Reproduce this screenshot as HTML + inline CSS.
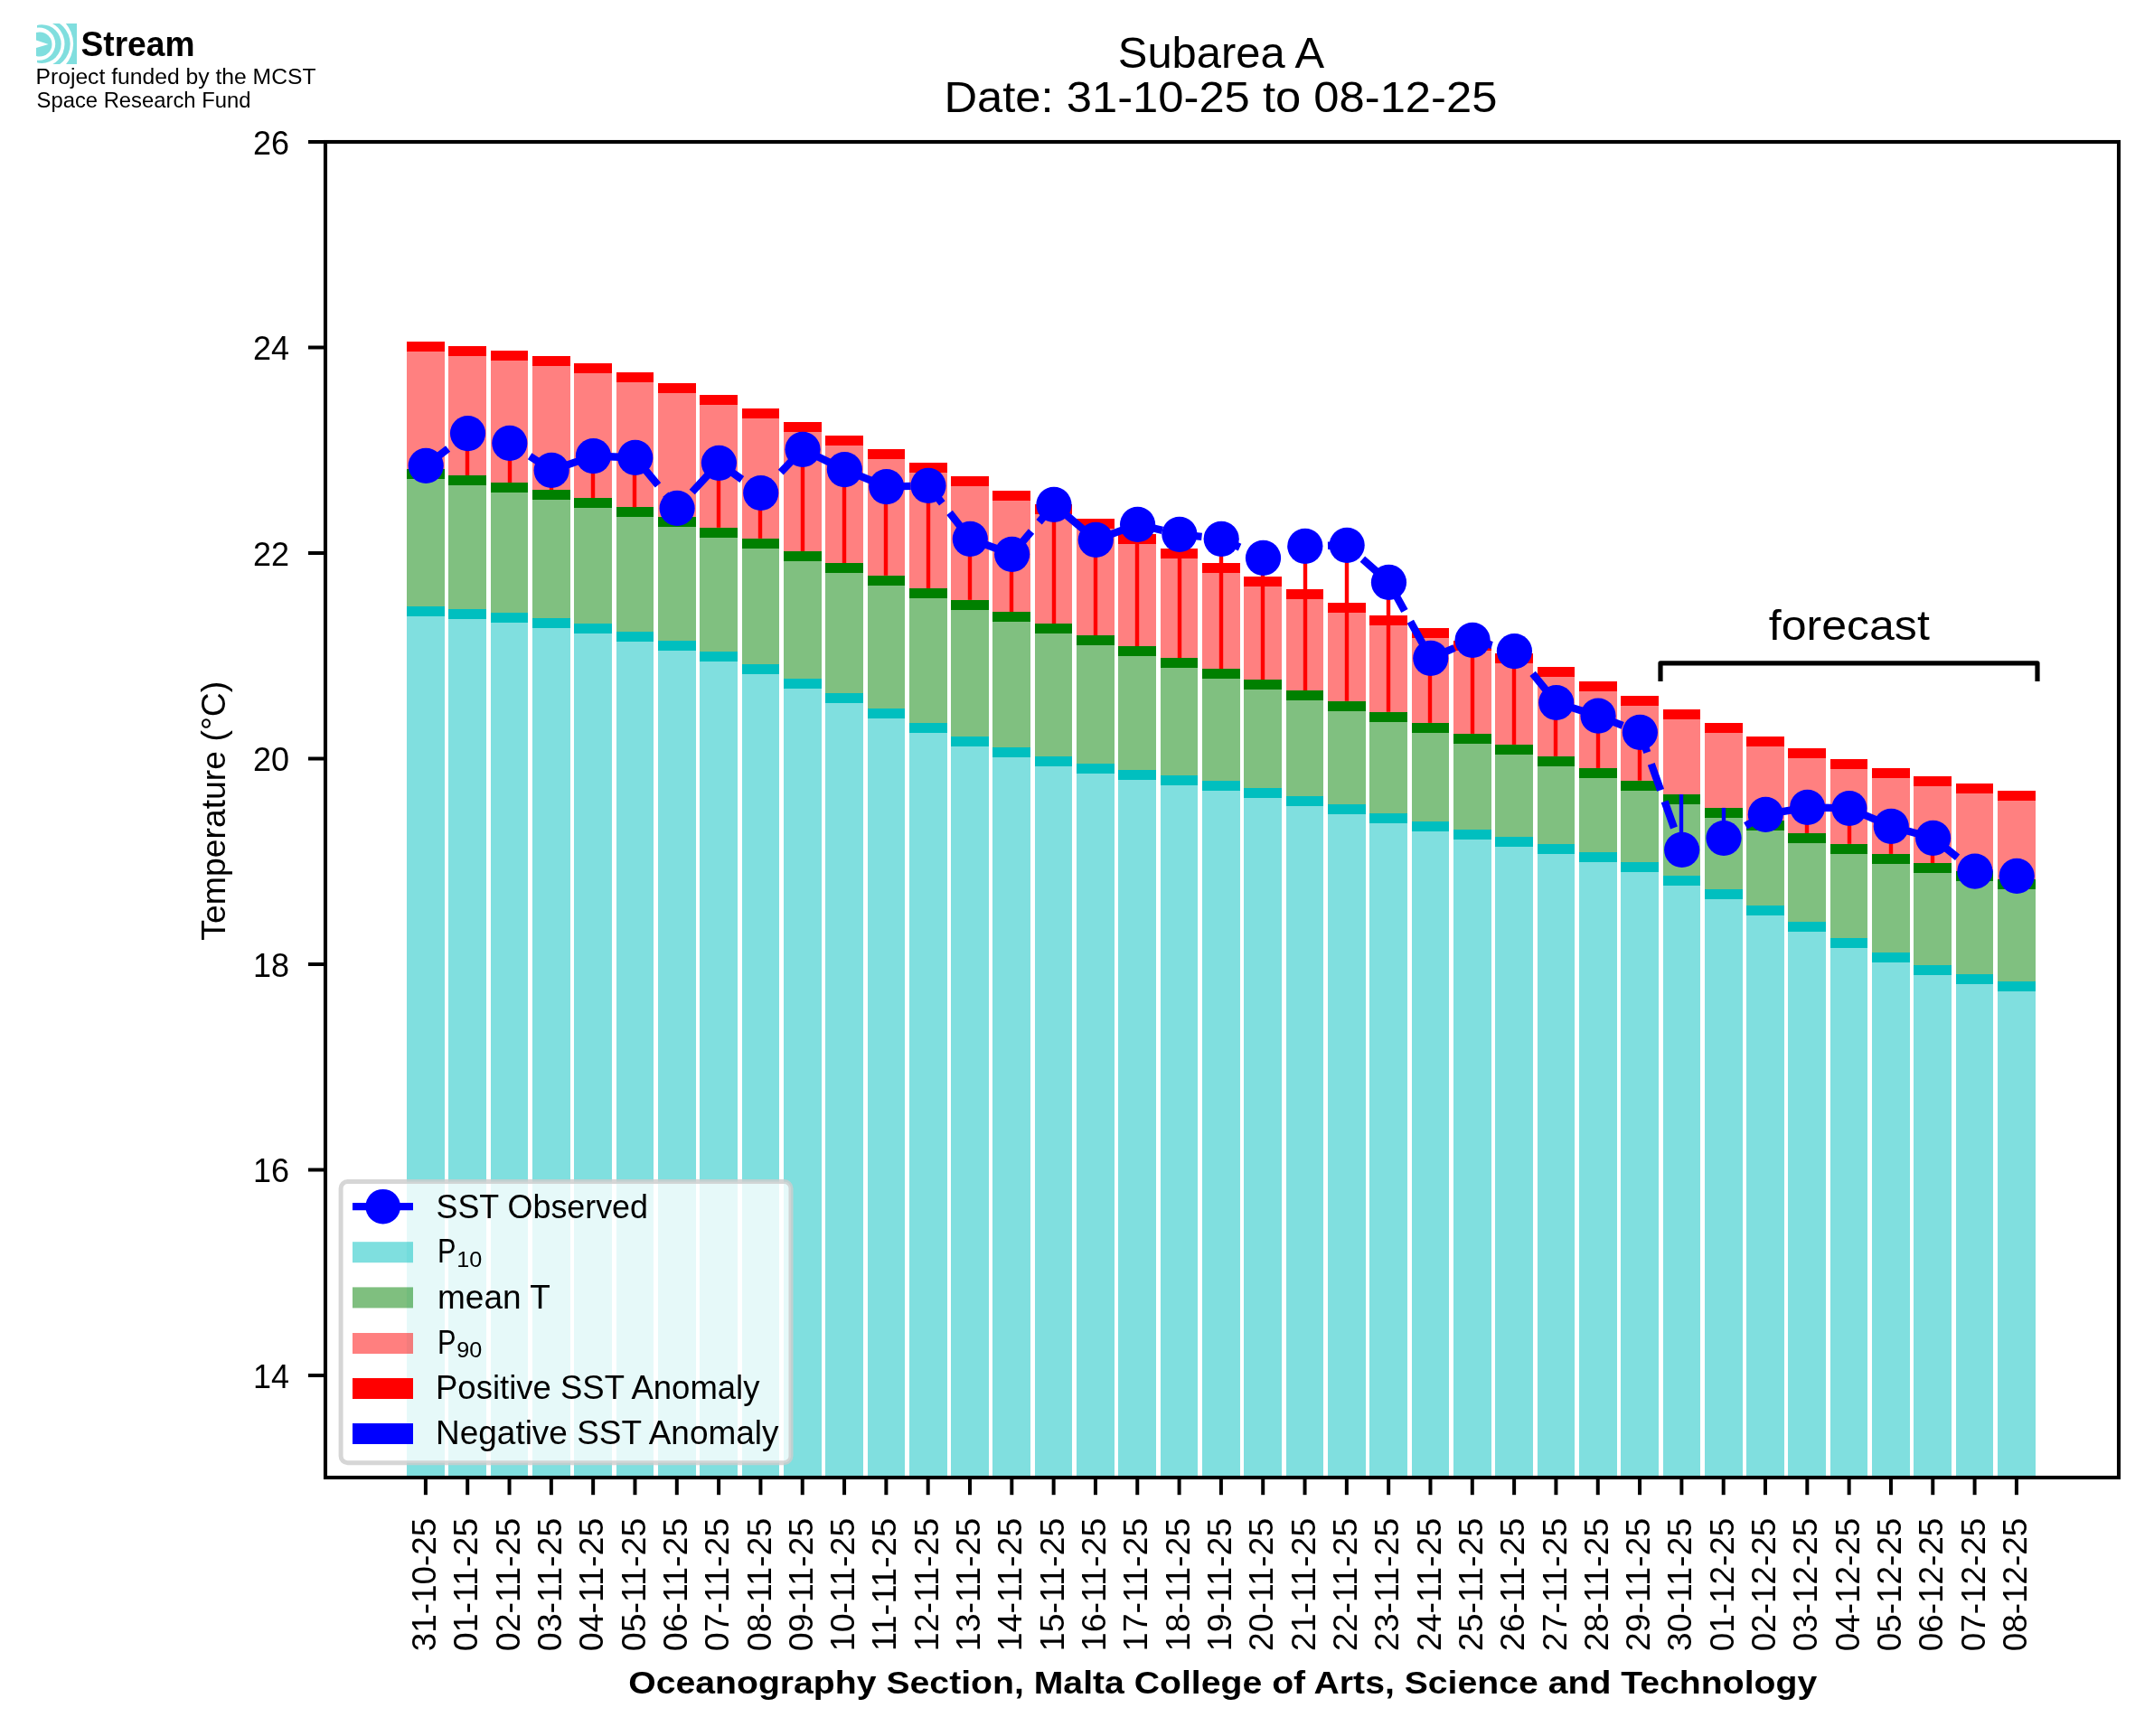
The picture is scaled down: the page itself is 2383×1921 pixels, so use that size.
<!DOCTYPE html>
<html><head><meta charset="utf-8"><title>Subarea A SST</title>
<style>html,body{margin:0;padding:0;background:#fff;width:2383px;height:1921px;overflow:hidden}svg{display:block;will-change:transform}text{font-family:"Liberation Sans",sans-serif}</style></head><body>
<svg width="2383" height="1921" viewBox="0 0 2383 1921">
<rect x="0" y="0" width="2383" height="1921" fill="#ffffff"/>
<defs><clipPath id="ax"><rect x="360" y="157" width="1984" height="1478"/></clipPath>
<clipPath id="logo"><rect x="40" y="26" width="45" height="45"/></clipPath></defs>
<g clip-path="url(#ax)" shape-rendering="crispEdges">
<rect x="450" y="671" width="42" height="966" fill="#80dfdf"/>
<rect x="450" y="519" width="42" height="152" fill="#80c080"/>
<rect x="450" y="378" width="42" height="141" fill="#ff8080"/>
<rect x="450" y="671" width="42" height="11.4" fill="#00bfbf"/>
<rect x="450" y="519" width="42" height="11.4" fill="#008000"/>
<rect x="450" y="378" width="42" height="11.4" fill="#ff0000"/>
<rect x="496" y="674" width="42" height="963" fill="#80dfdf"/>
<rect x="496" y="526" width="42" height="148" fill="#80c080"/>
<rect x="496" y="383" width="42" height="143" fill="#ff8080"/>
<rect x="496" y="674" width="42" height="11.4" fill="#00bfbf"/>
<rect x="496" y="526" width="42" height="11.4" fill="#008000"/>
<rect x="496" y="383" width="42" height="11.4" fill="#ff0000"/>
<rect x="543" y="678" width="41" height="959" fill="#80dfdf"/>
<rect x="543" y="534" width="41" height="144" fill="#80c080"/>
<rect x="543" y="388" width="41" height="146" fill="#ff8080"/>
<rect x="543" y="678" width="41" height="11.4" fill="#00bfbf"/>
<rect x="543" y="534" width="41" height="11.4" fill="#008000"/>
<rect x="543" y="388" width="41" height="11.4" fill="#ff0000"/>
<rect x="589" y="684" width="42" height="953" fill="#80dfdf"/>
<rect x="589" y="542" width="42" height="142" fill="#80c080"/>
<rect x="589" y="394" width="42" height="148" fill="#ff8080"/>
<rect x="589" y="684" width="42" height="11.4" fill="#00bfbf"/>
<rect x="589" y="542" width="42" height="11.4" fill="#008000"/>
<rect x="589" y="394" width="42" height="11.4" fill="#ff0000"/>
<rect x="635" y="690" width="42" height="947" fill="#80dfdf"/>
<rect x="635" y="551" width="42" height="139" fill="#80c080"/>
<rect x="635" y="402" width="42" height="149" fill="#ff8080"/>
<rect x="635" y="690" width="42" height="11.4" fill="#00bfbf"/>
<rect x="635" y="551" width="42" height="11.4" fill="#008000"/>
<rect x="635" y="402" width="42" height="11.4" fill="#ff0000"/>
<rect x="682" y="699" width="41" height="938" fill="#80dfdf"/>
<rect x="682" y="561" width="41" height="138" fill="#80c080"/>
<rect x="682" y="412" width="41" height="149" fill="#ff8080"/>
<rect x="682" y="699" width="41" height="11.4" fill="#00bfbf"/>
<rect x="682" y="561" width="41" height="11.4" fill="#008000"/>
<rect x="682" y="412" width="41" height="11.4" fill="#ff0000"/>
<rect x="728" y="709" width="42" height="928" fill="#80dfdf"/>
<rect x="728" y="572" width="42" height="137" fill="#80c080"/>
<rect x="728" y="424" width="42" height="148" fill="#ff8080"/>
<rect x="728" y="709" width="42" height="11.4" fill="#00bfbf"/>
<rect x="728" y="572" width="42" height="11.4" fill="#008000"/>
<rect x="728" y="424" width="42" height="11.4" fill="#ff0000"/>
<rect x="774" y="721" width="42" height="916" fill="#80dfdf"/>
<rect x="774" y="584" width="42" height="137" fill="#80c080"/>
<rect x="774" y="437" width="42" height="147" fill="#ff8080"/>
<rect x="774" y="721" width="42" height="11.4" fill="#00bfbf"/>
<rect x="774" y="584" width="42" height="11.4" fill="#008000"/>
<rect x="774" y="437" width="42" height="11.4" fill="#ff0000"/>
<rect x="821" y="735" width="41" height="902" fill="#80dfdf"/>
<rect x="821" y="596" width="41" height="139" fill="#80c080"/>
<rect x="821" y="452" width="41" height="144" fill="#ff8080"/>
<rect x="821" y="735" width="41" height="11.4" fill="#00bfbf"/>
<rect x="821" y="596" width="41" height="11.4" fill="#008000"/>
<rect x="821" y="452" width="41" height="11.4" fill="#ff0000"/>
<rect x="867" y="751" width="42" height="886" fill="#80dfdf"/>
<rect x="867" y="610" width="42" height="141" fill="#80c080"/>
<rect x="867" y="467" width="42" height="143" fill="#ff8080"/>
<rect x="867" y="751" width="42" height="11.4" fill="#00bfbf"/>
<rect x="867" y="610" width="42" height="11.4" fill="#008000"/>
<rect x="867" y="467" width="42" height="11.4" fill="#ff0000"/>
<rect x="913" y="767" width="42" height="870" fill="#80dfdf"/>
<rect x="913" y="623" width="42" height="144" fill="#80c080"/>
<rect x="913" y="482" width="42" height="141" fill="#ff8080"/>
<rect x="913" y="767" width="42" height="11.4" fill="#00bfbf"/>
<rect x="913" y="623" width="42" height="11.4" fill="#008000"/>
<rect x="913" y="482" width="42" height="11.4" fill="#ff0000"/>
<rect x="960" y="784" width="41" height="853" fill="#80dfdf"/>
<rect x="960" y="637" width="41" height="147" fill="#80c080"/>
<rect x="960" y="497" width="41" height="140" fill="#ff8080"/>
<rect x="960" y="784" width="41" height="11.4" fill="#00bfbf"/>
<rect x="960" y="637" width="41" height="11.4" fill="#008000"/>
<rect x="960" y="497" width="41" height="11.4" fill="#ff0000"/>
<rect x="1006" y="800" width="42" height="837" fill="#80dfdf"/>
<rect x="1006" y="651" width="42" height="149" fill="#80c080"/>
<rect x="1006" y="512" width="42" height="139" fill="#ff8080"/>
<rect x="1006" y="800" width="42" height="11.4" fill="#00bfbf"/>
<rect x="1006" y="651" width="42" height="11.4" fill="#008000"/>
<rect x="1006" y="512" width="42" height="11.4" fill="#ff0000"/>
<rect x="1052" y="815" width="42" height="822" fill="#80dfdf"/>
<rect x="1052" y="664" width="42" height="151" fill="#80c080"/>
<rect x="1052" y="527" width="42" height="137" fill="#ff8080"/>
<rect x="1052" y="815" width="42" height="11.4" fill="#00bfbf"/>
<rect x="1052" y="664" width="42" height="11.4" fill="#008000"/>
<rect x="1052" y="527" width="42" height="11.4" fill="#ff0000"/>
<rect x="1098" y="827" width="42" height="810" fill="#80dfdf"/>
<rect x="1098" y="677" width="42" height="150" fill="#80c080"/>
<rect x="1098" y="543" width="42" height="134" fill="#ff8080"/>
<rect x="1098" y="827" width="42" height="11.4" fill="#00bfbf"/>
<rect x="1098" y="677" width="42" height="11.4" fill="#008000"/>
<rect x="1098" y="543" width="42" height="11.4" fill="#ff0000"/>
<rect x="1145" y="837" width="41" height="800" fill="#80dfdf"/>
<rect x="1145" y="690" width="41" height="147" fill="#80c080"/>
<rect x="1145" y="558" width="41" height="132" fill="#ff8080"/>
<rect x="1145" y="837" width="41" height="11.4" fill="#00bfbf"/>
<rect x="1145" y="690" width="41" height="11.4" fill="#008000"/>
<rect x="1145" y="558" width="41" height="11.4" fill="#ff0000"/>
<rect x="1191" y="845" width="42" height="792" fill="#80dfdf"/>
<rect x="1191" y="703" width="42" height="142" fill="#80c080"/>
<rect x="1191" y="574" width="42" height="129" fill="#ff8080"/>
<rect x="1191" y="845" width="42" height="11.4" fill="#00bfbf"/>
<rect x="1191" y="703" width="42" height="11.4" fill="#008000"/>
<rect x="1191" y="574" width="42" height="11.4" fill="#ff0000"/>
<rect x="1237" y="852" width="42" height="785" fill="#80dfdf"/>
<rect x="1237" y="715" width="42" height="137" fill="#80c080"/>
<rect x="1237" y="591" width="42" height="124" fill="#ff8080"/>
<rect x="1237" y="852" width="42" height="11.4" fill="#00bfbf"/>
<rect x="1237" y="715" width="42" height="11.4" fill="#008000"/>
<rect x="1237" y="591" width="42" height="11.4" fill="#ff0000"/>
<rect x="1284" y="858" width="41" height="779" fill="#80dfdf"/>
<rect x="1284" y="728" width="41" height="130" fill="#80c080"/>
<rect x="1284" y="607" width="41" height="121" fill="#ff8080"/>
<rect x="1284" y="858" width="41" height="11.4" fill="#00bfbf"/>
<rect x="1284" y="728" width="41" height="11.4" fill="#008000"/>
<rect x="1284" y="607" width="41" height="11.4" fill="#ff0000"/>
<rect x="1330" y="864" width="42" height="773" fill="#80dfdf"/>
<rect x="1330" y="740" width="42" height="124" fill="#80c080"/>
<rect x="1330" y="623" width="42" height="117" fill="#ff8080"/>
<rect x="1330" y="864" width="42" height="11.4" fill="#00bfbf"/>
<rect x="1330" y="740" width="42" height="11.4" fill="#008000"/>
<rect x="1330" y="623" width="42" height="11.4" fill="#ff0000"/>
<rect x="1376" y="872" width="42" height="765" fill="#80dfdf"/>
<rect x="1376" y="752" width="42" height="120" fill="#80c080"/>
<rect x="1376" y="638" width="42" height="114" fill="#ff8080"/>
<rect x="1376" y="872" width="42" height="11.4" fill="#00bfbf"/>
<rect x="1376" y="752" width="42" height="11.4" fill="#008000"/>
<rect x="1376" y="638" width="42" height="11.4" fill="#ff0000"/>
<rect x="1423" y="881" width="41" height="756" fill="#80dfdf"/>
<rect x="1423" y="764" width="41" height="117" fill="#80c080"/>
<rect x="1423" y="652" width="41" height="112" fill="#ff8080"/>
<rect x="1423" y="881" width="41" height="11.4" fill="#00bfbf"/>
<rect x="1423" y="764" width="41" height="11.4" fill="#008000"/>
<rect x="1423" y="652" width="41" height="11.4" fill="#ff0000"/>
<rect x="1469" y="890" width="42" height="747" fill="#80dfdf"/>
<rect x="1469" y="776" width="42" height="114" fill="#80c080"/>
<rect x="1469" y="667" width="42" height="109" fill="#ff8080"/>
<rect x="1469" y="890" width="42" height="11.4" fill="#00bfbf"/>
<rect x="1469" y="776" width="42" height="11.4" fill="#008000"/>
<rect x="1469" y="667" width="42" height="11.4" fill="#ff0000"/>
<rect x="1515" y="900" width="42" height="737" fill="#80dfdf"/>
<rect x="1515" y="788" width="42" height="112" fill="#80c080"/>
<rect x="1515" y="681" width="42" height="107" fill="#ff8080"/>
<rect x="1515" y="900" width="42" height="11.4" fill="#00bfbf"/>
<rect x="1515" y="788" width="42" height="11.4" fill="#008000"/>
<rect x="1515" y="681" width="42" height="11.4" fill="#ff0000"/>
<rect x="1562" y="909" width="41" height="728" fill="#80dfdf"/>
<rect x="1562" y="800" width="41" height="109" fill="#80c080"/>
<rect x="1562" y="695" width="41" height="105" fill="#ff8080"/>
<rect x="1562" y="909" width="41" height="11.4" fill="#00bfbf"/>
<rect x="1562" y="800" width="41" height="11.4" fill="#008000"/>
<rect x="1562" y="695" width="41" height="11.4" fill="#ff0000"/>
<rect x="1608" y="918" width="42" height="719" fill="#80dfdf"/>
<rect x="1608" y="812" width="42" height="106" fill="#80c080"/>
<rect x="1608" y="709" width="42" height="103" fill="#ff8080"/>
<rect x="1608" y="918" width="42" height="11.4" fill="#00bfbf"/>
<rect x="1608" y="812" width="42" height="11.4" fill="#008000"/>
<rect x="1608" y="709" width="42" height="11.4" fill="#ff0000"/>
<rect x="1654" y="926" width="42" height="711" fill="#80dfdf"/>
<rect x="1654" y="824" width="42" height="102" fill="#80c080"/>
<rect x="1654" y="723" width="42" height="101" fill="#ff8080"/>
<rect x="1654" y="926" width="42" height="11.4" fill="#00bfbf"/>
<rect x="1654" y="824" width="42" height="11.4" fill="#008000"/>
<rect x="1654" y="723" width="42" height="11.4" fill="#ff0000"/>
<rect x="1701" y="934" width="41" height="703" fill="#80dfdf"/>
<rect x="1701" y="837" width="41" height="97" fill="#80c080"/>
<rect x="1701" y="738" width="41" height="99" fill="#ff8080"/>
<rect x="1701" y="934" width="41" height="11.4" fill="#00bfbf"/>
<rect x="1701" y="837" width="41" height="11.4" fill="#008000"/>
<rect x="1701" y="738" width="41" height="11.4" fill="#ff0000"/>
<rect x="1747" y="943" width="42" height="694" fill="#80dfdf"/>
<rect x="1747" y="850" width="42" height="93" fill="#80c080"/>
<rect x="1747" y="754" width="42" height="96" fill="#ff8080"/>
<rect x="1747" y="943" width="42" height="11.4" fill="#00bfbf"/>
<rect x="1747" y="850" width="42" height="11.4" fill="#008000"/>
<rect x="1747" y="754" width="42" height="11.4" fill="#ff0000"/>
<rect x="1793" y="954" width="42" height="683" fill="#80dfdf"/>
<rect x="1793" y="864" width="42" height="90" fill="#80c080"/>
<rect x="1793" y="770" width="42" height="94" fill="#ff8080"/>
<rect x="1793" y="954" width="42" height="11.4" fill="#00bfbf"/>
<rect x="1793" y="864" width="42" height="11.4" fill="#008000"/>
<rect x="1793" y="770" width="42" height="11.4" fill="#ff0000"/>
<rect x="1840" y="969" width="41" height="668" fill="#80dfdf"/>
<rect x="1840" y="879" width="41" height="90" fill="#80c080"/>
<rect x="1840" y="785" width="41" height="94" fill="#ff8080"/>
<rect x="1840" y="969" width="41" height="11.4" fill="#00bfbf"/>
<rect x="1840" y="879" width="41" height="11.4" fill="#008000"/>
<rect x="1840" y="785" width="41" height="11.4" fill="#ff0000"/>
<rect x="1886" y="984" width="42" height="653" fill="#80dfdf"/>
<rect x="1886" y="894" width="42" height="90" fill="#80c080"/>
<rect x="1886" y="800" width="42" height="94" fill="#ff8080"/>
<rect x="1886" y="984" width="42" height="11.4" fill="#00bfbf"/>
<rect x="1886" y="894" width="42" height="11.4" fill="#008000"/>
<rect x="1886" y="800" width="42" height="11.4" fill="#ff0000"/>
<rect x="1932" y="1002" width="42" height="635" fill="#80dfdf"/>
<rect x="1932" y="908" width="42" height="94" fill="#80c080"/>
<rect x="1932" y="815" width="42" height="93" fill="#ff8080"/>
<rect x="1932" y="1002" width="42" height="11.4" fill="#00bfbf"/>
<rect x="1932" y="908" width="42" height="11.4" fill="#008000"/>
<rect x="1932" y="815" width="42" height="11.4" fill="#ff0000"/>
<rect x="1978" y="1020" width="42" height="617" fill="#80dfdf"/>
<rect x="1978" y="922" width="42" height="98" fill="#80c080"/>
<rect x="1978" y="828" width="42" height="94" fill="#ff8080"/>
<rect x="1978" y="1020" width="42" height="11.4" fill="#00bfbf"/>
<rect x="1978" y="922" width="42" height="11.4" fill="#008000"/>
<rect x="1978" y="828" width="42" height="11.4" fill="#ff0000"/>
<rect x="2025" y="1038" width="41" height="599" fill="#80dfdf"/>
<rect x="2025" y="934" width="41" height="104" fill="#80c080"/>
<rect x="2025" y="840" width="41" height="94" fill="#ff8080"/>
<rect x="2025" y="1038" width="41" height="11.4" fill="#00bfbf"/>
<rect x="2025" y="934" width="41" height="11.4" fill="#008000"/>
<rect x="2025" y="840" width="41" height="11.4" fill="#ff0000"/>
<rect x="2071" y="1054" width="42" height="583" fill="#80dfdf"/>
<rect x="2071" y="945" width="42" height="109" fill="#80c080"/>
<rect x="2071" y="850" width="42" height="95" fill="#ff8080"/>
<rect x="2071" y="1054" width="42" height="11.4" fill="#00bfbf"/>
<rect x="2071" y="945" width="42" height="11.4" fill="#008000"/>
<rect x="2071" y="850" width="42" height="11.4" fill="#ff0000"/>
<rect x="2117" y="1068" width="42" height="569" fill="#80dfdf"/>
<rect x="2117" y="955" width="42" height="113" fill="#80c080"/>
<rect x="2117" y="859" width="42" height="96" fill="#ff8080"/>
<rect x="2117" y="1068" width="42" height="11.4" fill="#00bfbf"/>
<rect x="2117" y="955" width="42" height="11.4" fill="#008000"/>
<rect x="2117" y="859" width="42" height="11.4" fill="#ff0000"/>
<rect x="2164" y="1078" width="41" height="559" fill="#80dfdf"/>
<rect x="2164" y="964" width="41" height="114" fill="#80c080"/>
<rect x="2164" y="867" width="41" height="97" fill="#ff8080"/>
<rect x="2164" y="1078" width="41" height="11.4" fill="#00bfbf"/>
<rect x="2164" y="964" width="41" height="11.4" fill="#008000"/>
<rect x="2164" y="867" width="41" height="11.4" fill="#ff0000"/>
<rect x="2210" y="1086" width="42" height="551" fill="#80dfdf"/>
<rect x="2210" y="973" width="42" height="113" fill="#80c080"/>
<rect x="2210" y="875" width="42" height="98" fill="#ff8080"/>
<rect x="2210" y="1086" width="42" height="11.4" fill="#00bfbf"/>
<rect x="2210" y="973" width="42" height="11.4" fill="#008000"/>
<rect x="2210" y="875" width="42" height="11.4" fill="#ff0000"/>
</g>
<g clip-path="url(#ax)">
<line x1="471" y1="519" x2="471" y2="515.3" stroke="#ff0000" stroke-width="4.4"/>
<line x1="517" y1="525.9" x2="517" y2="479.6" stroke="#ff0000" stroke-width="4.4"/>
<line x1="564" y1="534" x2="564" y2="490.4" stroke="#ff0000" stroke-width="4.4"/>
<line x1="610" y1="542" x2="610" y2="520.4" stroke="#ff0000" stroke-width="4.4"/>
<line x1="656" y1="551" x2="656" y2="504.6" stroke="#ff0000" stroke-width="4.4"/>
<line x1="702" y1="561.2" x2="702" y2="506.4" stroke="#ff0000" stroke-width="4.4"/>
<line x1="749" y1="571.9" x2="749" y2="562.4" stroke="#ff0000" stroke-width="4.4"/>
<line x1="795" y1="583.8" x2="795" y2="512.3" stroke="#ff0000" stroke-width="4.4"/>
<line x1="841" y1="595.8" x2="841" y2="545.5" stroke="#ff0000" stroke-width="4.4"/>
<line x1="888" y1="609.9" x2="888" y2="497.3" stroke="#ff0000" stroke-width="4.4"/>
<line x1="934" y1="623" x2="934" y2="519.6" stroke="#ff0000" stroke-width="4.4"/>
<line x1="980" y1="636.8" x2="980" y2="538.6" stroke="#ff0000" stroke-width="4.4"/>
<line x1="1027" y1="650.9" x2="1027" y2="537.4" stroke="#ff0000" stroke-width="4.4"/>
<line x1="1073" y1="663.8" x2="1073" y2="596.4" stroke="#ff0000" stroke-width="4.4"/>
<line x1="1119" y1="677" x2="1119" y2="613.3" stroke="#ff0000" stroke-width="4.4"/>
<line x1="1166" y1="689.9" x2="1166" y2="558.4" stroke="#ff0000" stroke-width="4.4"/>
<line x1="1212" y1="703" x2="1212" y2="597.4" stroke="#ff0000" stroke-width="4.4"/>
<line x1="1258" y1="715" x2="1258" y2="580.4" stroke="#ff0000" stroke-width="4.4"/>
<line x1="1305" y1="727.9" x2="1305" y2="591.3" stroke="#ff0000" stroke-width="4.4"/>
<line x1="1351" y1="739.9" x2="1351" y2="596.3" stroke="#ff0000" stroke-width="4.4"/>
<line x1="1397" y1="751.9" x2="1397" y2="617.4" stroke="#ff0000" stroke-width="4.4"/>
<line x1="1444" y1="763.9" x2="1444" y2="604.3" stroke="#ff0000" stroke-width="4.4"/>
<line x1="1490" y1="775.8" x2="1490" y2="603.3" stroke="#ff0000" stroke-width="4.4"/>
<line x1="1536" y1="787.8" x2="1536" y2="644.4" stroke="#ff0000" stroke-width="4.4"/>
<line x1="1582" y1="799.9" x2="1582" y2="728.4" stroke="#ff0000" stroke-width="4.4"/>
<line x1="1629" y1="811.9" x2="1629" y2="708.3" stroke="#ff0000" stroke-width="4.4"/>
<line x1="1675" y1="823.9" x2="1675" y2="720.6" stroke="#ff0000" stroke-width="4.4"/>
<line x1="1721" y1="836.8" x2="1721" y2="777.5" stroke="#ff0000" stroke-width="4.4"/>
<line x1="1768" y1="849.9" x2="1768" y2="792.2" stroke="#ff0000" stroke-width="4.4"/>
<line x1="1814" y1="863.7" x2="1814" y2="810.4" stroke="#ff0000" stroke-width="4.4"/>
<line x1="1860" y1="879" x2="1860" y2="940.4" stroke="#0000ff" stroke-width="4.4"/>
<line x1="1907" y1="893.9" x2="1907" y2="927.5" stroke="#0000ff" stroke-width="4.4"/>
<line x1="1953" y1="908.2" x2="1953" y2="901.3" stroke="#ff0000" stroke-width="4.4"/>
<line x1="1999" y1="921.9" x2="1999" y2="893.3" stroke="#ff0000" stroke-width="4.4"/>
<line x1="2046" y1="933.8" x2="2046" y2="894.5" stroke="#ff0000" stroke-width="4.4"/>
<line x1="2092" y1="944.9" x2="2092" y2="914.4" stroke="#ff0000" stroke-width="4.4"/>
<line x1="2138" y1="955" x2="2138" y2="927.3" stroke="#ff0000" stroke-width="4.4"/>
<line x1="2185" y1="964" x2="2185" y2="964.2" stroke="#0000ff" stroke-width="4.4"/>
<line x1="2231" y1="972.7" x2="2231" y2="969.3" stroke="#ff0000" stroke-width="4.4"/>
<polyline points="471.2,515.3 517.52,479.6 563.83,490.4 610.15,520.4 656.46,504.6 702.78,506.4 749.1,562.4 795.41,512.3 841.73,545.5 888.04,497.3 934.36,519.6 980.68,538.6 1026.99,537.4 1073.31,596.4 1119.62,613.3 1165.94,558.4 1212.26,597.4 1258.57,580.4 1304.89,591.3 1351.2,596.3 1397.52,617.4 1443.84,604.3 1490.15,603.3 1536.47,644.4 1582.78,728.4 1629.1,708.3 1675.42,720.6 1721.73,777.5 1768.05,792.2 1814.36,810.4 1860.68,940.4 1907,927.5 1953.31,901.3 1999.63,893.3 2045.94,894.5 2092.26,914.4 2138.58,927.3 2184.89,964.2 2231.21,969.3" fill="none" stroke="#0000ff" stroke-width="8.33" stroke-dasharray="30.84 13.36" stroke-linejoin="round" stroke-linecap="butt"/>
<circle cx="471.2" cy="515.3" r="19.6" fill="#0000ff"/>
<circle cx="517.52" cy="479.6" r="19.6" fill="#0000ff"/>
<circle cx="563.83" cy="490.4" r="19.6" fill="#0000ff"/>
<circle cx="610.15" cy="520.4" r="19.6" fill="#0000ff"/>
<circle cx="656.46" cy="504.6" r="19.6" fill="#0000ff"/>
<circle cx="702.78" cy="506.4" r="19.6" fill="#0000ff"/>
<circle cx="749.1" cy="562.4" r="19.6" fill="#0000ff"/>
<circle cx="795.41" cy="512.3" r="19.6" fill="#0000ff"/>
<circle cx="841.73" cy="545.5" r="19.6" fill="#0000ff"/>
<circle cx="888.04" cy="497.3" r="19.6" fill="#0000ff"/>
<circle cx="934.36" cy="519.6" r="19.6" fill="#0000ff"/>
<circle cx="980.68" cy="538.6" r="19.6" fill="#0000ff"/>
<circle cx="1026.99" cy="537.4" r="19.6" fill="#0000ff"/>
<circle cx="1073.31" cy="596.4" r="19.6" fill="#0000ff"/>
<circle cx="1119.62" cy="613.3" r="19.6" fill="#0000ff"/>
<circle cx="1165.94" cy="558.4" r="19.6" fill="#0000ff"/>
<circle cx="1212.26" cy="597.4" r="19.6" fill="#0000ff"/>
<circle cx="1258.57" cy="580.4" r="19.6" fill="#0000ff"/>
<circle cx="1304.89" cy="591.3" r="19.6" fill="#0000ff"/>
<circle cx="1351.2" cy="596.3" r="19.6" fill="#0000ff"/>
<circle cx="1397.52" cy="617.4" r="19.6" fill="#0000ff"/>
<circle cx="1443.84" cy="604.3" r="19.6" fill="#0000ff"/>
<circle cx="1490.15" cy="603.3" r="19.6" fill="#0000ff"/>
<circle cx="1536.47" cy="644.4" r="19.6" fill="#0000ff"/>
<circle cx="1582.78" cy="728.4" r="19.6" fill="#0000ff"/>
<circle cx="1629.1" cy="708.3" r="19.6" fill="#0000ff"/>
<circle cx="1675.42" cy="720.6" r="19.6" fill="#0000ff"/>
<circle cx="1721.73" cy="777.5" r="19.6" fill="#0000ff"/>
<circle cx="1768.05" cy="792.2" r="19.6" fill="#0000ff"/>
<circle cx="1814.36" cy="810.4" r="19.6" fill="#0000ff"/>
<circle cx="1860.68" cy="940.4" r="19.6" fill="#0000ff"/>
<circle cx="1907" cy="927.5" r="19.6" fill="#0000ff"/>
<circle cx="1953.31" cy="901.3" r="19.6" fill="#0000ff"/>
<circle cx="1999.63" cy="893.3" r="19.6" fill="#0000ff"/>
<circle cx="2045.94" cy="894.5" r="19.6" fill="#0000ff"/>
<circle cx="2092.26" cy="914.4" r="19.6" fill="#0000ff"/>
<circle cx="2138.58" cy="927.3" r="19.6" fill="#0000ff"/>
<circle cx="2184.89" cy="964.2" r="19.6" fill="#0000ff"/>
<circle cx="2231.21" cy="969.3" r="19.6" fill="#0000ff"/>
</g>
<g stroke="#000" stroke-width="4.1" fill="none" stroke-linecap="square">
<rect x="360" y="157" width="1984" height="1478"/>
</g>
<g stroke="#000" stroke-width="4">
<line x1="341" y1="157" x2="360" y2="157"/>
<line x1="341" y1="384.5" x2="360" y2="384.5"/>
<line x1="341" y1="612" x2="360" y2="612"/>
<line x1="341" y1="839.5" x2="360" y2="839.5"/>
<line x1="341" y1="1067" x2="360" y2="1067"/>
<line x1="341" y1="1294.5" x2="360" y2="1294.5"/>
<line x1="341" y1="1522" x2="360" y2="1522"/>
<line x1="470.9" y1="1635" x2="470.9" y2="1654.2"/>
<line x1="517.22" y1="1635" x2="517.22" y2="1654.2"/>
<line x1="563.53" y1="1635" x2="563.53" y2="1654.2"/>
<line x1="609.85" y1="1635" x2="609.85" y2="1654.2"/>
<line x1="656.16" y1="1635" x2="656.16" y2="1654.2"/>
<line x1="702.48" y1="1635" x2="702.48" y2="1654.2"/>
<line x1="748.8" y1="1635" x2="748.8" y2="1654.2"/>
<line x1="795.11" y1="1635" x2="795.11" y2="1654.2"/>
<line x1="841.43" y1="1635" x2="841.43" y2="1654.2"/>
<line x1="887.74" y1="1635" x2="887.74" y2="1654.2"/>
<line x1="934.06" y1="1635" x2="934.06" y2="1654.2"/>
<line x1="980.38" y1="1635" x2="980.38" y2="1654.2"/>
<line x1="1026.69" y1="1635" x2="1026.69" y2="1654.2"/>
<line x1="1073.01" y1="1635" x2="1073.01" y2="1654.2"/>
<line x1="1119.32" y1="1635" x2="1119.32" y2="1654.2"/>
<line x1="1165.64" y1="1635" x2="1165.64" y2="1654.2"/>
<line x1="1211.96" y1="1635" x2="1211.96" y2="1654.2"/>
<line x1="1258.27" y1="1635" x2="1258.27" y2="1654.2"/>
<line x1="1304.59" y1="1635" x2="1304.59" y2="1654.2"/>
<line x1="1350.9" y1="1635" x2="1350.9" y2="1654.2"/>
<line x1="1397.22" y1="1635" x2="1397.22" y2="1654.2"/>
<line x1="1443.54" y1="1635" x2="1443.54" y2="1654.2"/>
<line x1="1489.85" y1="1635" x2="1489.85" y2="1654.2"/>
<line x1="1536.17" y1="1635" x2="1536.17" y2="1654.2"/>
<line x1="1582.48" y1="1635" x2="1582.48" y2="1654.2"/>
<line x1="1628.8" y1="1635" x2="1628.8" y2="1654.2"/>
<line x1="1675.12" y1="1635" x2="1675.12" y2="1654.2"/>
<line x1="1721.43" y1="1635" x2="1721.43" y2="1654.2"/>
<line x1="1767.75" y1="1635" x2="1767.75" y2="1654.2"/>
<line x1="1814.06" y1="1635" x2="1814.06" y2="1654.2"/>
<line x1="1860.38" y1="1635" x2="1860.38" y2="1654.2"/>
<line x1="1906.7" y1="1635" x2="1906.7" y2="1654.2"/>
<line x1="1953.01" y1="1635" x2="1953.01" y2="1654.2"/>
<line x1="1999.33" y1="1635" x2="1999.33" y2="1654.2"/>
<line x1="2045.64" y1="1635" x2="2045.64" y2="1654.2"/>
<line x1="2091.96" y1="1635" x2="2091.96" y2="1654.2"/>
<line x1="2138.28" y1="1635" x2="2138.28" y2="1654.2"/>
<line x1="2184.59" y1="1635" x2="2184.59" y2="1654.2"/>
<line x1="2230.91" y1="1635" x2="2230.91" y2="1654.2"/>
</g>
<g font-size="36" fill="#000" text-anchor="end">
<text x="320" y="170.8">26</text>
<text x="320" y="398.3">24</text>
<text x="320" y="625.8">22</text>
<text x="320" y="853.3">20</text>
<text x="320" y="1080.8">18</text>
<text x="320" y="1308.3">16</text>
<text x="320" y="1535.8">14</text>
</g>
<g font-size="36" fill="#000">
<text transform="translate(482 1827.2) rotate(-90)" x="0" y="0" textLength="147.5" lengthAdjust="spacingAndGlyphs">31-10-25</text>
<text transform="translate(528.32 1827.2) rotate(-90)" x="0" y="0" textLength="147.5" lengthAdjust="spacingAndGlyphs">01-11-25</text>
<text transform="translate(574.63 1827.2) rotate(-90)" x="0" y="0" textLength="147.5" lengthAdjust="spacingAndGlyphs">02-11-25</text>
<text transform="translate(620.95 1827.2) rotate(-90)" x="0" y="0" textLength="147.5" lengthAdjust="spacingAndGlyphs">03-11-25</text>
<text transform="translate(667.26 1827.2) rotate(-90)" x="0" y="0" textLength="147.5" lengthAdjust="spacingAndGlyphs">04-11-25</text>
<text transform="translate(713.58 1827.2) rotate(-90)" x="0" y="0" textLength="147.5" lengthAdjust="spacingAndGlyphs">05-11-25</text>
<text transform="translate(759.9 1827.2) rotate(-90)" x="0" y="0" textLength="147.5" lengthAdjust="spacingAndGlyphs">06-11-25</text>
<text transform="translate(806.21 1827.2) rotate(-90)" x="0" y="0" textLength="147.5" lengthAdjust="spacingAndGlyphs">07-11-25</text>
<text transform="translate(852.53 1827.2) rotate(-90)" x="0" y="0" textLength="147.5" lengthAdjust="spacingAndGlyphs">08-11-25</text>
<text transform="translate(898.84 1827.2) rotate(-90)" x="0" y="0" textLength="147.5" lengthAdjust="spacingAndGlyphs">09-11-25</text>
<text transform="translate(945.16 1827.2) rotate(-90)" x="0" y="0" textLength="147.5" lengthAdjust="spacingAndGlyphs">10-11-25</text>
<text transform="translate(991.48 1827.2) rotate(-90)" x="0" y="0" textLength="147.5" lengthAdjust="spacingAndGlyphs">11-11-25</text>
<text transform="translate(1037.79 1827.2) rotate(-90)" x="0" y="0" textLength="147.5" lengthAdjust="spacingAndGlyphs">12-11-25</text>
<text transform="translate(1084.11 1827.2) rotate(-90)" x="0" y="0" textLength="147.5" lengthAdjust="spacingAndGlyphs">13-11-25</text>
<text transform="translate(1130.42 1827.2) rotate(-90)" x="0" y="0" textLength="147.5" lengthAdjust="spacingAndGlyphs">14-11-25</text>
<text transform="translate(1176.74 1827.2) rotate(-90)" x="0" y="0" textLength="147.5" lengthAdjust="spacingAndGlyphs">15-11-25</text>
<text transform="translate(1223.06 1827.2) rotate(-90)" x="0" y="0" textLength="147.5" lengthAdjust="spacingAndGlyphs">16-11-25</text>
<text transform="translate(1269.37 1827.2) rotate(-90)" x="0" y="0" textLength="147.5" lengthAdjust="spacingAndGlyphs">17-11-25</text>
<text transform="translate(1315.69 1827.2) rotate(-90)" x="0" y="0" textLength="147.5" lengthAdjust="spacingAndGlyphs">18-11-25</text>
<text transform="translate(1362 1827.2) rotate(-90)" x="0" y="0" textLength="147.5" lengthAdjust="spacingAndGlyphs">19-11-25</text>
<text transform="translate(1408.32 1827.2) rotate(-90)" x="0" y="0" textLength="147.5" lengthAdjust="spacingAndGlyphs">20-11-25</text>
<text transform="translate(1454.64 1827.2) rotate(-90)" x="0" y="0" textLength="147.5" lengthAdjust="spacingAndGlyphs">21-11-25</text>
<text transform="translate(1500.95 1827.2) rotate(-90)" x="0" y="0" textLength="147.5" lengthAdjust="spacingAndGlyphs">22-11-25</text>
<text transform="translate(1547.27 1827.2) rotate(-90)" x="0" y="0" textLength="147.5" lengthAdjust="spacingAndGlyphs">23-11-25</text>
<text transform="translate(1593.58 1827.2) rotate(-90)" x="0" y="0" textLength="147.5" lengthAdjust="spacingAndGlyphs">24-11-25</text>
<text transform="translate(1639.9 1827.2) rotate(-90)" x="0" y="0" textLength="147.5" lengthAdjust="spacingAndGlyphs">25-11-25</text>
<text transform="translate(1686.22 1827.2) rotate(-90)" x="0" y="0" textLength="147.5" lengthAdjust="spacingAndGlyphs">26-11-25</text>
<text transform="translate(1732.53 1827.2) rotate(-90)" x="0" y="0" textLength="147.5" lengthAdjust="spacingAndGlyphs">27-11-25</text>
<text transform="translate(1778.85 1827.2) rotate(-90)" x="0" y="0" textLength="147.5" lengthAdjust="spacingAndGlyphs">28-11-25</text>
<text transform="translate(1825.16 1827.2) rotate(-90)" x="0" y="0" textLength="147.5" lengthAdjust="spacingAndGlyphs">29-11-25</text>
<text transform="translate(1871.48 1827.2) rotate(-90)" x="0" y="0" textLength="147.5" lengthAdjust="spacingAndGlyphs">30-11-25</text>
<text transform="translate(1917.8 1827.2) rotate(-90)" x="0" y="0" textLength="147.5" lengthAdjust="spacingAndGlyphs">01-12-25</text>
<text transform="translate(1964.11 1827.2) rotate(-90)" x="0" y="0" textLength="147.5" lengthAdjust="spacingAndGlyphs">02-12-25</text>
<text transform="translate(2010.43 1827.2) rotate(-90)" x="0" y="0" textLength="147.5" lengthAdjust="spacingAndGlyphs">03-12-25</text>
<text transform="translate(2056.74 1827.2) rotate(-90)" x="0" y="0" textLength="147.5" lengthAdjust="spacingAndGlyphs">04-12-25</text>
<text transform="translate(2103.06 1827.2) rotate(-90)" x="0" y="0" textLength="147.5" lengthAdjust="spacingAndGlyphs">05-12-25</text>
<text transform="translate(2149.38 1827.2) rotate(-90)" x="0" y="0" textLength="147.5" lengthAdjust="spacingAndGlyphs">06-12-25</text>
<text transform="translate(2195.69 1827.2) rotate(-90)" x="0" y="0" textLength="147.5" lengthAdjust="spacingAndGlyphs">07-12-25</text>
<text transform="translate(2242.01 1827.2) rotate(-90)" x="0" y="0" textLength="147.5" lengthAdjust="spacingAndGlyphs">08-12-25</text>
</g>
<rect x="377.1" y="1307.5" width="497.9" height="311.3" rx="7.5" ry="7.5" fill="#ffffff" fill-opacity="0.8" stroke="#cccccc" stroke-opacity="0.8" stroke-width="5"/>
<line x1="390" y1="1335.2" x2="457" y2="1335.2" stroke="#0000ff" stroke-width="8.3"/>
<circle cx="423.7" cy="1335.2" r="19.3" fill="#0000ff"/>
<rect x="390" y="1374.2" width="67" height="23" fill="#00bfbf" fill-opacity="0.5"/>
<rect x="390" y="1424.4" width="67" height="23" fill="#008000" fill-opacity="0.5"/>
<rect x="390" y="1475" width="67" height="23" fill="#ff0000" fill-opacity="0.5"/>
<rect x="390" y="1525" width="67" height="23" fill="#ff0000" fill-opacity="1"/>
<rect x="390" y="1575" width="67" height="23" fill="#0000ff" fill-opacity="1"/>
<g font-size="37" fill="#000">
<text x="482.5" y="1347.7" textLength="234.5" lengthAdjust="spacingAndGlyphs">SST Observed</text>
<text x="484" y="1397.3" textLength="20.5" lengthAdjust="spacingAndGlyphs">P</text><text x="505.2" y="1401.6" font-size="24" textLength="28" lengthAdjust="spacingAndGlyphs">10</text>
<text x="484" y="1447.9">mean T</text>
<text x="484" y="1498" textLength="20.5" lengthAdjust="spacingAndGlyphs">P</text><text x="505.2" y="1502.3" font-size="24" textLength="28" lengthAdjust="spacingAndGlyphs">90</text>
<text x="482" y="1548.2" textLength="358.5" lengthAdjust="spacingAndGlyphs">Positive SST Anomaly</text>
<text x="482" y="1598.3" textLength="379.5" lengthAdjust="spacingAndGlyphs">Negative SST Anomaly</text>
</g>
<path d="M1837,754 L1837,733.8 L2254,733.8 L2254,754" fill="none" stroke="#000" stroke-width="5.2" stroke-linejoin="round" stroke-linecap="butt"/>
<text x="2045.8" y="707.7" font-size="46" text-anchor="middle" textLength="178" lengthAdjust="spacingAndGlyphs">forecast</text>
<text x="1351" y="74.9" font-size="49" text-anchor="middle" textLength="228.5" lengthAdjust="spacingAndGlyphs">Subarea A</text>
<text x="1350.4" y="123.5" font-size="49" text-anchor="middle" textLength="612" lengthAdjust="spacingAndGlyphs">Date: 31-10-25 to 08-12-25</text>
<text transform="translate(248.5 897.2) rotate(-90)" x="0" y="0" font-size="37" text-anchor="middle" textLength="287" lengthAdjust="spacingAndGlyphs">Temperature (°C)</text>
<text x="1352.7" y="1873.9" font-size="35.5" font-weight="bold" text-anchor="middle" textLength="1315" lengthAdjust="spacingAndGlyphs">Oceanography Section, Malta College of Arts, Science and Technology</text>
<g clip-path="url(#logo)">
<rect x="40" y="26" width="45" height="45" fill="#80dede"/>
<circle cx="46.1" cy="48.6" r="35" fill="#fff"/>
<circle cx="50.3" cy="48.6" r="27.4" fill="#80dede"/>
<circle cx="45.9" cy="48.6" r="25.6" fill="#fff"/>
<circle cx="46.3" cy="48.6" r="21.4" fill="#80dede"/>
<circle cx="43.0" cy="48.6" r="18.2" fill="#fff"/>
<circle cx="43.9" cy="49" r="13.6" fill="#80dede"/>
<polygon points="39,44.2 53.6,49.1 39,53.3" fill="#fff"/>
<rect x="39" y="25" width="2" height="10.2" fill="#fff"/>
<rect x="39" y="62.6" width="2" height="10" fill="#fff"/>
</g>
<text x="89.5" y="61.9" font-size="39.7" font-weight="bold" textLength="126" lengthAdjust="spacingAndGlyphs">Stream</text>
<text x="39.5" y="93" font-size="24.6" textLength="310" lengthAdjust="spacingAndGlyphs">Project funded by the MCST</text>
<text x="40.5" y="118.6" font-size="24.6" textLength="237" lengthAdjust="spacingAndGlyphs">Space Research Fund</text>
</svg></body></html>
